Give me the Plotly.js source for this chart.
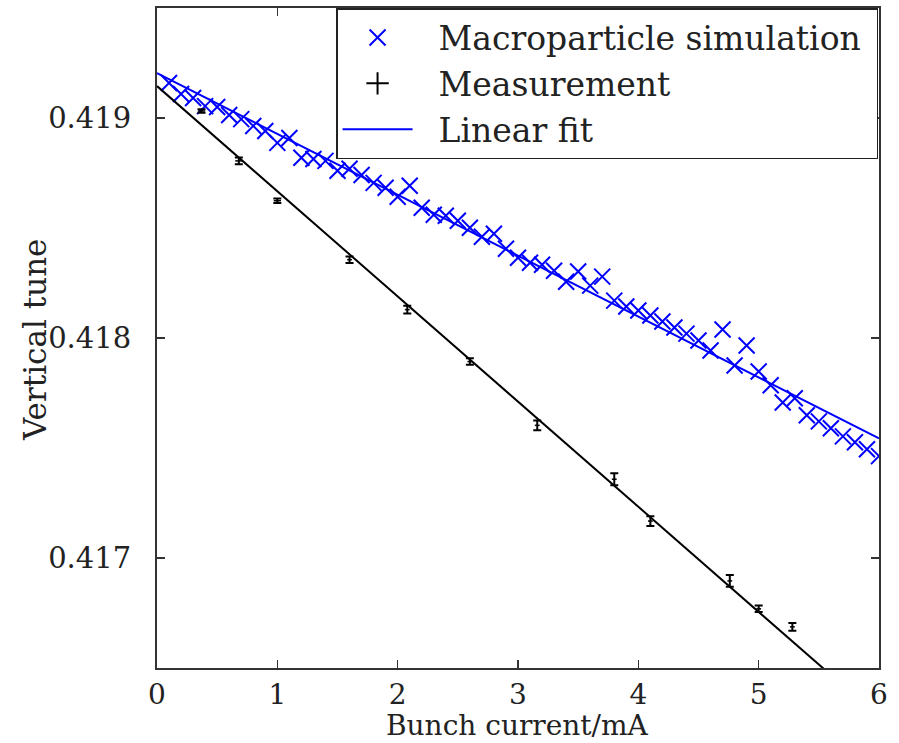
<!DOCTYPE html>
<html>
<head>
<meta charset="utf-8">
<script src="https://cdn.plot.ly/plotly-3.0.1.min.js"></script>
<style>html,body{margin:0;padding:0;background:#fff;}#chart{width:899px;height:743px;}</style>
</head>
<body>
<div id="chart"></div>
<script>
// Macroparticle simulation (bunch current in mA, vertical tune)
const simCurrent = [0.1,0.2,0.3,0.4,0.5,0.6,0.7,0.8,0.9,1.0,
  1.1,1.2,1.3,1.4,1.5,1.6,1.7,1.8,1.9,2.0,
  2.1,2.2,2.3,2.4,2.5,2.6,2.7,2.8,2.9,3.0,
  3.1,3.2,3.3,3.4,3.5,3.6,3.7,3.8,3.9,4.0,
  4.1,4.2,4.3,4.4,4.5,4.6,4.7,4.8,4.9,5.0,
  5.1,5.2,5.3,5.4,5.5,5.6,5.7,5.8,5.9,6.0];
const simTune = [0.419159,0.419109,0.419091,0.419054,0.419050,0.419014,0.418995,0.418964,0.418941,0.418887,
  0.418909,0.418819,0.418814,0.418805,0.418760,0.418769,0.418741,0.418705,0.418683,0.418642,
  0.418692,0.418592,0.418560,0.418556,0.418533,0.418501,0.418460,0.418474,0.418406,0.418365,
  0.418342,0.418333,0.418306,0.418256,0.418302,0.418238,0.418279,0.418170,0.418143,0.418125,
  0.418102,0.418075,0.418048,0.418020,0.417989,0.417943,0.418039,0.417875,0.417966,0.417848,
  0.417785,0.417707,0.417726,0.417649,0.417621,0.417590,0.417553,0.417526,0.417494,0.417463];

// Measurement
const measCurrent = [0.37,0.68,1.0,1.6,2.08,2.6,3.16,3.8,4.1,4.76,5.0,5.28];
const measTune = [0.419032,0.418805,0.418624,0.418356,0.418129,0.417893,0.417603,0.417358,0.417168,0.416896,0.416769,0.416687];
const measErrTune = [0.000008,0.000015,0.000010,0.000015,0.000018,0.000015,0.000022,0.000027,0.000022,0.000027,0.000015,0.000018];
const measErrCurrent = [0.03,0.03,0.03,0.02,0.02,0.02,0.02,0.02,0.02,0.02,0.02,0.02];

// Linear fits (end points)
const fitCurrent = [0, 6];
const simFitTune = [0.419204, 0.417544];
const measFitTune = [0.419145, 0.416277];

// Titles
const xTitle = 'Bunch current/mA';
const yTitle = 'Vertical tune';

const serif = 'DejaVu Serif, Liberation Serif, serif';
const pad = '\u00a0\u00a0';

const traces = [
  {x: simCurrent, y: simTune, type: 'scatter', mode: 'markers', name: pad + 'Macroparticle simulation\u00a0',
   marker: {symbol: 'x-thin-open', size: 16, color: '#0000ff', line: {color: '#0000ff', width: 2}}},
  {x: measCurrent, y: measTune, type: 'scatter', mode: 'markers', name: 'Measurement data', showlegend: false,
   marker: {size: 1, color: '#000'},
   error_y: {type: 'data', array: measErrTune, visible: true, color: '#000', thickness: 2, width: 4},
   error_x: {type: 'data', array: measErrCurrent, visible: true, color: '#000', thickness: 1.5, width: 0}},
  {x: [null], y: [null], type: 'scatter', mode: 'markers', name: pad + 'Measurement',
   marker: {symbol: 'cross-thin-open', size: 16, color: '#000', line: {color: '#000', width: 2}}},
  {x: fitCurrent, y: simFitTune, type: 'scatter', mode: 'lines', name: pad + 'Linear fit',
   line: {color: '#0000ff', width: 2}},
  {x: fitCurrent, y: measFitTune, type: 'scatter', mode: 'lines', name: 'Measurement fit', showlegend: false,
   line: {color: '#000', width: 2}}
];

const axisCommon = {
  showline: true, linecolor: '#333', linewidth: 2, mirror: 'ticks',
  ticks: 'inside', ticklen: 8, tickwidth: 1.5, tickcolor: '#333',
  showgrid: false, zeroline: false,
  tickfont: {family: serif, size: 28, color: '#222'}
};

const layout = {
  width: 899, height: 743,
  margin: {l: 157, r: 20, t: 8, b: 75},
  paper_bgcolor: '#fff', plot_bgcolor: '#fff',
  showlegend: true,
  xaxis: Object.assign({}, axisCommon, {
    range: [0, 6], dtick: 1, tick0: 0,
    ticklabelstandoff: 0
  }),
  yaxis: Object.assign({}, axisCommon, {
    range: [0.4165, 0.4195], tickvals: [0.417, 0.418, 0.419], ticktext: ['0.417', '0.418', '0.419'],
    ticklabelstandoff: 18, tickfont: {family: serif, size: 29, color: '#222'}
  }),
  annotations: [
    {text: xTitle, xref: 'paper', yref: 'paper', x: 0.499, y: -0.0864, xanchor: 'center', yanchor: 'middle',
     showarrow: false, font: {family: serif, size: 28, color: '#222'}},
    {text: yTitle, xref: 'paper', yref: 'paper', x: -0.169, y: 0.497, xanchor: 'center', yanchor: 'middle',
     textangle: -90, showarrow: false, font: {family: serif, size: 31, color: '#222'}}
  ],
  legend: {
    x: 0.248, y: 1, xanchor: 'left', yanchor: 'top',
    bgcolor: '#fff', bordercolor: '#222', borderwidth: 1.5,
    font: {family: serif, size: 33, color: '#222'},
    itemwidth: 70, traceorder: 'normal'
  }
};

Plotly.newPlot('chart', traces, layout, {displayModeBar: false, staticPlot: true});
</script>
</body>
</html>
